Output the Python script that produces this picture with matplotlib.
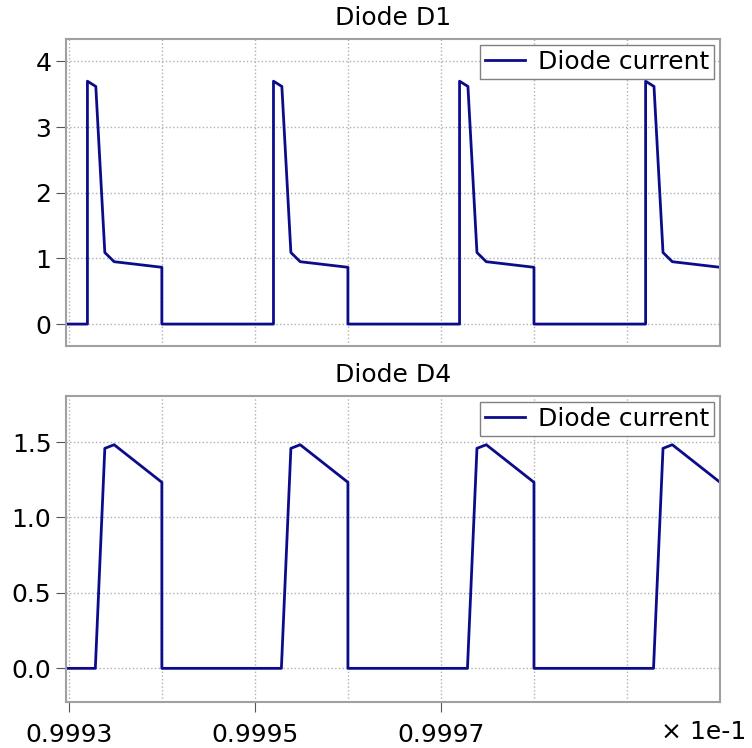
"""Diode currents of D1 and D4 over the last few switching periods."""

import matplotlib

matplotlib.use("Agg")
import matplotlib.pyplot as plt
from matplotlib.ticker import FixedLocator, FuncFormatter, MultipleLocator

# time, shown on the axis in units of 1e-1 s
d1_time = [
    0.99929, 0.99932, 0.99932, 0.999329, 0.9993387, 0.9993487, 0.99940, 0.99940,
    0.99952, 0.99952, 0.999529, 0.9995387, 0.9995487, 0.99960, 0.99960,
    0.99972, 0.99972, 0.999729, 0.9997387, 0.9997487, 0.99980, 0.99980,
    0.99992, 0.99992, 0.999929, 0.9999387, 0.9999487, 1.00000,
]
d1_current = [
    0.0, 0.0, 3.70, 3.62, 1.09, 0.95, 0.865, 0.0,
    0.0, 3.70, 3.62, 1.09, 0.95, 0.865, 0.0,
    0.0, 3.70, 3.62, 1.09, 0.95, 0.865, 0.0,
    0.0, 3.70, 3.62, 1.09, 0.95, 0.865,
]

d4_time = [
    0.99929, 0.9993285, 0.9993387, 0.9993487, 0.99940, 0.99940,
    0.9995285, 0.9995387, 0.9995487, 0.99960, 0.99960,
    0.9997285, 0.9997387, 0.9997487, 0.99980, 0.99980,
    0.9999285, 0.9999387, 0.9999487, 1.00000,
]
d4_current = [
    0.0, 0.0, 1.458, 1.482, 1.233, 0.0,
    0.0, 1.458, 1.482, 1.233, 0.0,
    0.0, 1.458, 1.482, 1.233, 0.0,
    0.0, 1.458, 1.482, 1.233,
]

titles = ["Diode D1", "Diode D4"]
legend_label = "Diode current"
x_labelled_ticks = [0.9993, 0.9995, 0.9997]
x_grid_ticks = [0.9994, 0.9996, 0.9998, 0.9999]
x_multiplier = "× 1e-1"
x_limits = (0.999297, 1.0)
y_limits = [(-0.33, 4.35), (-0.223, 1.805)]
y_steps = [1.0, 0.5]

LINE_COLOR = "#0c0c8a"
SPINE_COLOR = "#a0a0a0"
GRID_COLOR = "#b0b0b0"
FONT_SIZE = 18

plt.rcParams["font.family"] = ["DejaVu Sans"]

fig = plt.figure(figsize=(7.52, 7.48), dpi=100)
ax_top = fig.add_axes([0.0878, 0.5378, 0.8697, 0.4107])
ax_bot = fig.add_axes([0.0878, 0.0615, 0.8697, 0.4091], sharex=ax_top)

series = [(d1_time, d1_current), (d4_time, d4_current)]

for ax, (t, i), title, ylim, step in zip(
    [ax_top, ax_bot], series, titles, y_limits, y_steps
):
    ax.plot(t, i, color=LINE_COLOR, lw=2.0, label=legend_label)
    ax.set_xlim(*x_limits)
    ax.set_ylim(*ylim)
    ax.set_title(title, fontsize=FONT_SIZE, pad=10)

    ax.xaxis.set_major_locator(FixedLocator(x_labelled_ticks))
    ax.xaxis.set_minor_locator(FixedLocator(x_grid_ticks))
    ax.yaxis.set_major_locator(MultipleLocator(step))

    ax.grid(which="both", axis="x", ls=":", color=GRID_COLOR, lw=1.0)
    ax.grid(which="major", axis="y", ls=":", color=GRID_COLOR, lw=1.0)
    ax.tick_params(axis="x", which="minor", length=0)
    ax.tick_params(
        axis="both", which="major", labelsize=FONT_SIZE, direction="out",
        length=7, width=0.8, color="#555555",
    )
    ax.tick_params(axis="x", which="major", pad=8)
    for spine in ax.spines.values():
        spine.set_color(SPINE_COLOR)
        spine.set_linewidth(1.5)

    leg = ax.legend(
        loc="upper right", fontsize=FONT_SIZE, fancybox=False, framealpha=1.0,
        borderpad=0.2, handlelength=1.6, handletextpad=0.5,
        borderaxespad=0.25,
    )
    leg.get_frame().set_edgecolor("#808080")
    leg.get_frame().set_linewidth(1.0)

ax_top.tick_params(axis="x", which="both", bottom=False, labelbottom=False)
ax_bot.yaxis.set_major_formatter(FuncFormatter(lambda v, _: f"{v:.1f}"))
ax_bot.xaxis.set_major_formatter(FuncFormatter(lambda v, _: f"{v:.4f}"))

# multiplier sits on the tick label line, right of the axes
fig.text(0.992, 0.0615 - 18 / 748, x_multiplier, fontsize=FONT_SIZE,
         ha="right", va="top")

fig.savefig("out.png", dpi=100)
